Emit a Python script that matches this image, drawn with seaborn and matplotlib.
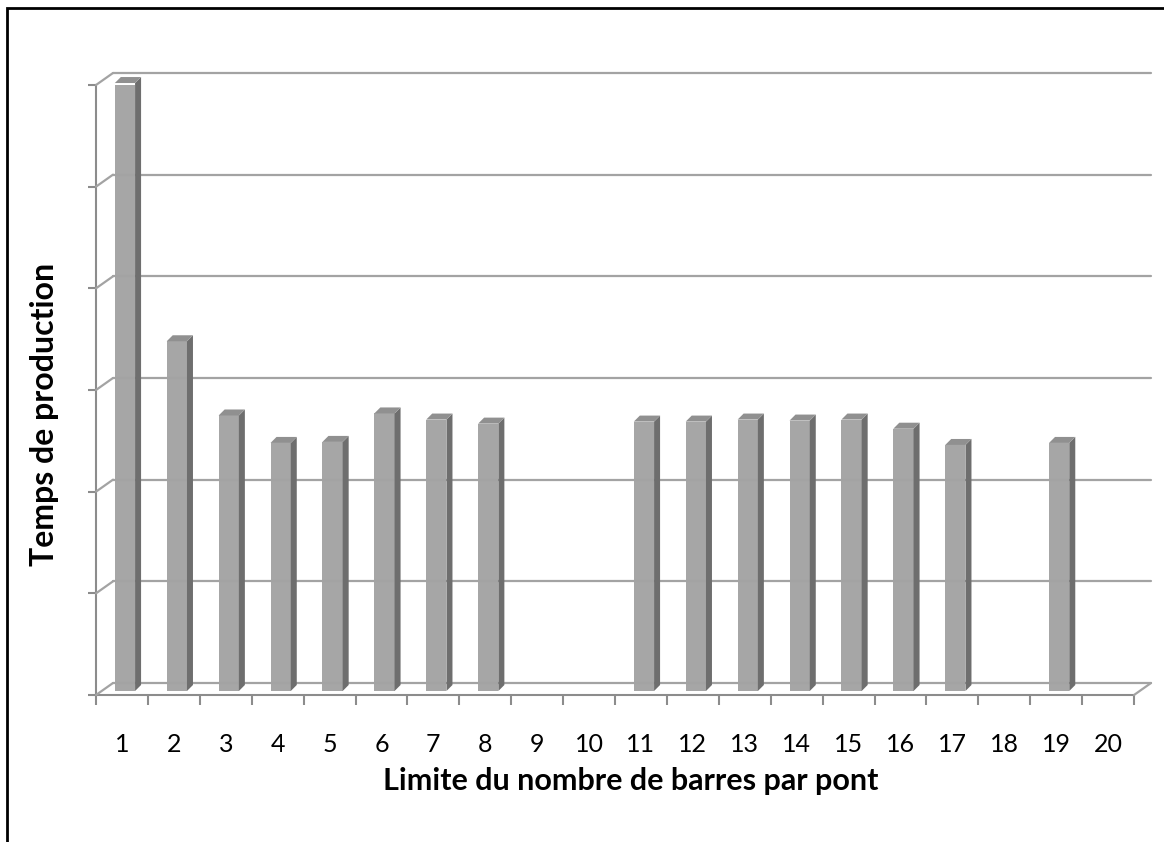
import matplotlib
matplotlib.use("Agg")
import matplotlib.pyplot as plt
from matplotlib.patches import Polygon, Rectangle
from matplotlib.lines import Line2D
import matplotlib.transforms as mtransforms
import numpy as np
import pandas as pd
import seaborn as sns

# data (no y tick labels in the original, units = 1/100 of a grid step)
categories = [str(i) for i in range(1, 21)]
values = [598, 344, 271, 244, 245, 273, 267, 263, np.nan, np.nan,
          265, 265, 267, 266, 267, 258, 242, np.nan, 244, np.nan]
yticks = [0, 100, 200, 300, 400, 500, 600]

sns.set_style("white")
plt.rcParams['font.family'] = ['Lato', 'DejaVu Sans']
plt.rcParams['text.color'] = 'black'
plt.rcParams['xtick.color'] = 'black'

W, H = 1164, 842
fig = plt.figure(figsize=(W / 100, H / 100), dpi=100)
ax = fig.add_axes([96 / W, 147 / H, (1134 - 96) / W, 610 / H])

df = pd.DataFrame({"limite": categories, "temps": values})
sns.barplot(data=df, x="limite", y="temps", order=categories, color="#a6a6a6",
            saturation=1, width=0.39, ax=ax, zorder=3)

ax.set_xlim(-0.5, 19.5)
ax.set_ylim(0, 600)
ax.set_xlabel("")
ax.set_ylabel("")

# axes look
for s in ["top", "right"]:
    ax.spines[s].set_visible(False)
for s in ["left", "bottom"]:
    ax.spines[s].set_color("#8c8c8c")
    ax.spines[s].set_linewidth(1.5)

ax.set_yticks(yticks)
ax.set_yticklabels([])
ax.tick_params(axis="y", left=True, length=6, width=1.5, color="#8c8c8c", direction="out")
ax.set_xticks(range(20))
ax.set_xticklabels(categories, fontsize=18, color="black")
ax.tick_params(axis="x", which="major", bottom=True, length=0, pad=27)
ax.set_xticks(np.arange(-0.5, 20, 1), minor=True)
ax.tick_params(axis="x", which="minor", bottom=True, length=7, width=1.5, color="#8c8c8c",
               direction="out")

# 3d-ish decoration, worked out in pixels
dx, dy = 17, 12        # depth of the back wall
bx, by = 3, 4          # bars sit a little behind the front plane
sx, sy = 6, 6          # bar depth

def disp(x, y):
    return ax.transData.transform((x, y))

grid_kw = dict(color="#a3a3a3", lw=1.6, zorder=1, transform=None)
xl, _ = disp(-0.5, 0)
xr, _ = disp(19.5, 0)
for v in yticks:
    _, yv = disp(0, v)
    fig.add_artist(Line2D([xl + dx, xr + dx], [yv + dy, yv + dy], **grid_kw))
    fig.add_artist(Line2D([xl, xl + dx], [yv, yv + dy], **grid_kw))
_, y0 = disp(0, 0)
fig.add_artist(Line2D([xr, xr + dx], [y0, y0 + dy], **grid_kw))

shift = mtransforms.offset_copy(ax.transData, fig=fig, x=bx, y=by, units="dots")
for p in list(ax.patches):
    h = p.get_height()
    if not np.isfinite(h) or h == 0:
        continue
    p.set_transform(shift)
    p.set_linewidth(0)
    x0 = p.get_x()
    x1 = x0 + p.get_width()
    (ax0, ay0), (ax1, ay1) = disp(x0, 0), disp(x1, h)
    ax0 += bx; ax1 += bx; ay0 += by; ay1 += by
    side = Polygon([(ax1, ay0), (ax1 + sx, ay0 + sy), (ax1 + sx, ay1 + sy), (ax1, ay1)],
                   closed=True, transform=None, facecolor="#6e6e6e", lw=0, zorder=3)
    top = Polygon([(ax0, ay1), (ax0 + sx, ay1 + sy), (ax1 + sx, ay1 + sy), (ax1, ay1)],
                  closed=True, transform=None, facecolor="#909090", lw=0, zorder=3)
    fig.add_artist(side)
    fig.add_artist(top)

# titles
fig.text(631 / W, 1 - 781 / H, "Limite du nombre de barres par pont", ha="center", va="center",
         fontsize=22, fontweight="bold")
fig.text(45 / W, 1 - 414 / H, "Temps de production", ha="center", va="center",
         rotation=90, fontsize=23, fontweight="bold")

# outer frame
fig.add_artist(Rectangle((7 / W, -0.05), 1.2, 1 - 8 / H + 0.05, transform=fig.transFigure,
                         fill=False, edgecolor="black", lw=2))

fig.savefig("out.png", dpi=100)
